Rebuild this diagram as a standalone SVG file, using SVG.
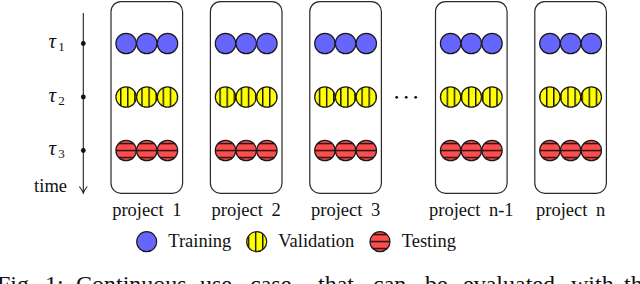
<svg xmlns="http://www.w3.org/2000/svg" width="640" height="284" viewBox="0 0 640 284">
<style>
.box{fill:#fff;stroke:#2a2a2a;stroke-width:1.2}
.c{stroke:#1a1a1a;stroke-width:1.2}
.tr{fill:#6666ff}
.va{fill:url(#vl)}
.te{fill:url(#hl)}
.t{font-family:"Liberation Serif","Times New Roman",serif;font-size:18.5px;fill:#111}
.m{font-family:"Liberation Serif","Times New Roman",serif;font-style:italic;font-size:21px;fill:#111}
.s{font-family:"Liberation Serif","Times New Roman",serif;font-size:13px;fill:#111}
.cap{font-family:"Liberation Serif","Times New Roman",serif;font-size:24px;fill:#111}
.ax{stroke:#222;stroke-width:1.1;fill:none}
</style>
<defs>
<pattern id="vl" patternUnits="userSpaceOnUse" x="120" y="0" width="7.1" height="10">
<rect width="7.1" height="10" fill="#ffff00"/>
<rect x="0" width="1.4" height="10" fill="#111"/>
</pattern>
<pattern id="hl" patternUnits="userSpaceOnUse" x="0" y="149.8" width="10" height="7">
<rect width="10" height="7" fill="#ff4d4d"/>
<rect y="0" width="10" height="1.4" fill="#111"/>
</pattern>
</defs>

<g id="timeline">
<line class="ax" x1="83.3" y1="13" x2="83.3" y2="192.5"/>
<path class="ax" d="M79.3,186.5 Q82.3,190 83.3,193 Q84.3,190 87.3,186.5"/>
<circle cx="83.3" cy="43.5" r="2.4" fill="#111"/>
<circle cx="83.3" cy="97" r="2.4" fill="#111"/>
<circle cx="83.3" cy="150.5" r="2.4" fill="#111"/>
<text class="m" x="48.5" y="48">τ</text><text class="s" x="58.3" y="51">1</text>
<text class="m" x="48.5" y="101.5">τ</text><text class="s" x="58.3" y="104.5">2</text>
<text class="m" x="48.5" y="155">τ</text><text class="s" x="58.3" y="158">3</text>
<text class="t" x="67" y="191.5" text-anchor="end">time</text>
</g>

<g id="project1">
<rect class="box" x="111" y="1.6" width="71.6" height="191.7" rx="10"/>
<circle class="c tr" cx="126.1" cy="43.5" r="10.2"/><circle class="c tr" cx="146.8" cy="43.5" r="10.2"/><circle class="c tr" cx="167.5" cy="43.5" r="10.2"/>
<circle class="c va" cx="126.1" cy="97" r="10.2"/><circle class="c va" cx="146.8" cy="97" r="10.2"/><circle class="c va" cx="167.5" cy="97" r="10.2"/>
<circle class="c te" cx="126.1" cy="150.5" r="10.2"/><circle class="c te" cx="146.8" cy="150.5" r="10.2"/><circle class="c te" cx="167.5" cy="150.5" r="10.2"/>
<text class="t" x="146.8" y="215.5" text-anchor="middle" word-spacing="4">project 1</text>
</g>

<g id="project2">
<rect class="box" x="210.4" y="1.6" width="71.6" height="191.7" rx="10"/>
<circle class="c tr" cx="225.5" cy="43.5" r="10.2"/><circle class="c tr" cx="246.2" cy="43.5" r="10.2"/><circle class="c tr" cx="266.9" cy="43.5" r="10.2"/>
<circle class="c va" cx="225.5" cy="97" r="10.2"/><circle class="c va" cx="246.2" cy="97" r="10.2"/><circle class="c va" cx="266.9" cy="97" r="10.2"/>
<circle class="c te" cx="225.5" cy="150.5" r="10.2"/><circle class="c te" cx="246.2" cy="150.5" r="10.2"/><circle class="c te" cx="266.9" cy="150.5" r="10.2"/>
<text class="t" x="246.2" y="215.5" text-anchor="middle" word-spacing="4">project 2</text>
</g>

<g id="project3">
<rect class="box" x="309.8" y="1.6" width="71.6" height="191.7" rx="10"/>
<circle class="c tr" cx="324.9" cy="43.5" r="10.2"/><circle class="c tr" cx="345.6" cy="43.5" r="10.2"/><circle class="c tr" cx="366.3" cy="43.5" r="10.2"/>
<circle class="c va" cx="324.9" cy="97" r="10.2"/><circle class="c va" cx="345.6" cy="97" r="10.2"/><circle class="c va" cx="366.3" cy="97" r="10.2"/>
<circle class="c te" cx="324.9" cy="150.5" r="10.2"/><circle class="c te" cx="345.6" cy="150.5" r="10.2"/><circle class="c te" cx="366.3" cy="150.5" r="10.2"/>
<text class="t" x="345.6" y="215.5" text-anchor="middle" word-spacing="4">project 3</text>
</g>

<g id="ellipsis">
<circle cx="396.7" cy="97.3" r="1.4" fill="#111"/>
<circle cx="406.2" cy="97.3" r="1.4" fill="#111"/>
<circle cx="415.7" cy="97.3" r="1.4" fill="#111"/>
</g>

<g id="projectn-1">
<rect class="box" x="435.5" y="1.6" width="71.6" height="191.7" rx="10"/>
<circle class="c tr" cx="450.6" cy="43.5" r="10.2"/><circle class="c tr" cx="471.3" cy="43.5" r="10.2"/><circle class="c tr" cx="492" cy="43.5" r="10.2"/>
<circle class="c va" cx="450.6" cy="97" r="10.2"/><circle class="c va" cx="471.3" cy="97" r="10.2"/><circle class="c va" cx="492" cy="97" r="10.2"/>
<circle class="c te" cx="450.6" cy="150.5" r="10.2"/><circle class="c te" cx="471.3" cy="150.5" r="10.2"/><circle class="c te" cx="492" cy="150.5" r="10.2"/>
<text class="t" x="471.3" y="215.5" text-anchor="middle" word-spacing="4">project n-1</text>
</g>

<g id="projectn">
<rect class="box" x="534.8" y="1.6" width="71.6" height="191.7" rx="10"/>
<circle class="c tr" cx="549.9" cy="43.5" r="10.2"/><circle class="c tr" cx="570.6" cy="43.5" r="10.2"/><circle class="c tr" cx="591.3" cy="43.5" r="10.2"/>
<circle class="c va" cx="549.9" cy="97" r="10.2"/><circle class="c va" cx="570.6" cy="97" r="10.2"/><circle class="c va" cx="591.3" cy="97" r="10.2"/>
<circle class="c te" cx="549.9" cy="150.5" r="10.2"/><circle class="c te" cx="570.6" cy="150.5" r="10.2"/><circle class="c te" cx="591.3" cy="150.5" r="10.2"/>
<text class="t" x="570.6" y="215.5" text-anchor="middle" word-spacing="4">project n</text>
</g>

<g id="legend">
<circle class="c tr" cx="146.7" cy="241.7" r="10"/>
<text class="t" x="168.3" y="246.5">Training</text>
<circle class="c va" cx="256.7" cy="241.7" r="10"/>
<text class="t" x="278.3" y="246.5">Validation</text>
<circle class="c te" cx="380" cy="241.7" r="10"/>
<text class="t" x="401.7" y="246.5">Testing</text>
</g>

<g id="connectors"></g>

<text class="cap" y="291.5"><tspan x="-3">Fig.</tspan><tspan x="45">1:</tspan><tspan x="76">Continuous</tspan><tspan x="200">use</tspan><tspan x="250">case</tspan><tspan x="318">that</tspan><tspan x="373">can</tspan><tspan x="425">be</tspan><tspan x="463">evaluated</tspan><tspan x="571">with</tspan><tspan x="624">th</tspan></text>
</svg>
